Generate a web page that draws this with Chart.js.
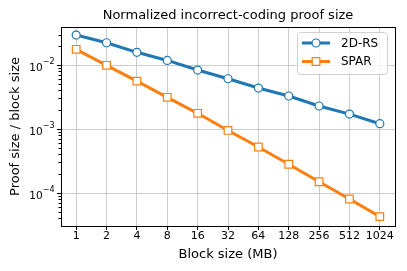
<!DOCTYPE html>
<html>
<head>
<meta charset="utf-8">
<script src="https://cdn.jsdelivr.net/npm/chart.js@4"></script>
<style>
  html, body { margin: 0; padding: 0; background: #fff; }
  #wrap { width: 407px; height: 271px; }
</style>
</head>
<body>
<div id="wrap"><canvas id="chart" width="407" height="271"></canvas></div>
<script>
// data
const blockSizes = ["1", "2", "4", "8", "16", "32", "64", "128", "256", "512", "1024"];
const rsValues = [0.0294, 0.0223, 0.0158, 0.0118, 0.00835, 0.0061, 0.00437, 0.00328, 0.00229, 0.00171, 0.00121];
const sparValues = [0.0176, 0.0099, 0.0056, 0.00313, 0.00176, 0.00095, 0.000524, 0.000281, 0.000150, 0.0000805, 0.0000427];
const yMajorTicks = [1e-4, 1e-3, 1e-2];
const yMajorExponents = ["−4", "−3", "−2"];
const yMin = 3.05e-5;
const yMax = 0.0393;
const titleText = "Normalized incorrect-coding proof size";

const FONT = "'DejaVu Sans', sans-serif";
const BLUE = "#1f77b4";
const ORANGE = "#ff7f0e";

// minor ticks 2..9 x 10^n inside the range
const yMinorTicks = [];
for (let e = -5; e <= -1; e++) {
    for (let m = 2; m <= 9; m++) {
        const v = m * Math.pow(10, e);
        if (v >= yMin && v <= yMax) yMinorTicks.push(v);
    }
}

// title, frame, minor ticks, 10^n labels and legend drawn like matplotlib
const extras = {
    id: "extras",
    afterDraw(chart) {
        const { ctx, chartArea: a } = chart;
        const y = chart.scales.y;
        ctx.save();

        ctx.fillStyle = "#000";
        ctx.font = "13px " + FONT;
        ctx.textAlign = "center";
        ctx.textBaseline = "middle";
        ctx.fillText(titleText, (a.left + a.right) / 2, 16);

        // y tick labels as 10 with a raised exponent
        ctx.textBaseline = "alphabetic";
        ctx.textAlign = "left";
        yMajorTicks.forEach((v, i) => {
            const py = y.getPixelForValue(v);
            ctx.font = "8px " + FONT;
            const ew = ctx.measureText(yMajorExponents[i]).width;
            ctx.font = "10.5px " + FONT;
            const bw = ctx.measureText("10").width;
            const right = a.left - 6.5;
            ctx.fillText("10", right - ew - bw, py + 5.5);
            ctx.font = "8px " + FONT;
            ctx.fillText(yMajorExponents[i], right - ew, py - 1);
        });

        ctx.strokeStyle = "#000";
        ctx.lineWidth = 1;
        ctx.beginPath();
        for (const v of yMinorTicks) {
            const py = Math.round(y.getPixelForValue(v)) + 0.5;
            ctx.moveTo(a.left - 2.5, py);
            ctx.lineTo(a.left, py);
        }
        ctx.stroke();
        ctx.strokeRect(Math.round(a.left) + 0.5, Math.round(a.top) + 0.5,
            Math.round(a.right - a.left), Math.round(a.bottom - a.top));

        // legend
        const lx = 297.5, ly = 32.5, lw = 90, lh = 42, r = 3;
        ctx.beginPath();
        ctx.moveTo(lx + r, ly);
        ctx.arcTo(lx + lw, ly, lx + lw, ly + lh, r);
        ctx.arcTo(lx + lw, ly + lh, lx, ly + lh, r);
        ctx.arcTo(lx, ly + lh, lx, ly, r);
        ctx.arcTo(lx, ly, lx + lw, ly, r);
        ctx.closePath();
        ctx.fillStyle = "rgba(255,255,255,0.8)";
        ctx.fill();
        ctx.strokeStyle = "#d0d0d0";
        ctx.stroke();

        chart.data.datasets.forEach((ds, i) => {
            const cy = 43 + i * 18.5;
            ctx.strokeStyle = ds.borderColor;
            ctx.lineWidth = 3;
            ctx.beginPath();
            ctx.moveTo(302, cy);
            ctx.lineTo(330, cy);
            ctx.stroke();
            ctx.fillStyle = "#fff";
            ctx.lineWidth = ds.pointBorderWidth;
            ctx.beginPath();
            if (ds.pointStyle === "circle") {
                ctx.arc(316, cy, ds.pointRadius, 0, Math.PI * 2);
            } else {
                const s = Math.SQRT1_2 * ds.pointRadius;
                ctx.rect(316 - s, cy - s, 2 * s, 2 * s);
            }
            ctx.fill();
            ctx.stroke();
            ctx.fillStyle = "#000";
            ctx.font = "12px " + FONT;
            ctx.textBaseline = "middle";
            ctx.textAlign = "left";
            ctx.fillText(ds.label, 341, cy + 0.5);
        });
        ctx.restore();
    },
};

new Chart(document.getElementById("chart"), {
    type: "line",
    data: {
        labels: blockSizes,
        datasets: [
            {
                label: "2D-RS",
                data: rsValues,
                borderColor: BLUE,
                backgroundColor: "#fff",
                borderWidth: 3,
                pointStyle: "circle",
                pointRadius: 4,
                pointBorderWidth: 1.2,
                pointBackgroundColor: "#fff",
                pointBorderColor: BLUE,
            },
            {
                label: "SPAR",
                data: sparValues,
                borderColor: ORANGE,
                backgroundColor: "#fff",
                borderWidth: 3,
                pointStyle: "rect",
                pointRadius: 5.4,
                pointBorderWidth: 1.2,
                pointBackgroundColor: "#fff",
                pointBorderColor: ORANGE,
            },
        ],
    },
    options: {
        responsive: false,
        animation: false,
        devicePixelRatio: 1,
        layout: { padding: { left: 0, right: 12, top: 27, bottom: 0 } },
        plugins: {
            legend: { display: false },
            tooltip: { enabled: false },
            title: { display: false },
        },
        scales: {
            x: {
                type: "category",
                offset: true,
                border: { display: false },
                grid: {
                    offset: false,
                    color: "#cccccc",
                    lineWidth: 1,
                    tickColor: "#000",
                    tickLength: 4,
                },
                ticks: {
                    color: "#000",
                    font: { family: FONT, size: 11 },
                    padding: 0,
                    maxRotation: 0,
                    autoSkip: false,
                },
                title: {
                    display: true,
                    text: "Block size (MB)",
                    color: "#000",
                    font: { family: FONT, size: 13 },
                    padding: { top: 0, bottom: 9 },
                },
                afterFit(scale) { scale.height = 45; },
            },
            y: {
                type: "logarithmic",
                min: yMin,
                max: yMax,
                border: { display: false },
                afterBuildTicks(scale) {
                    scale.ticks = yMajorTicks.map((v) => ({ value: v, major: true }));
                },
                grid: {
                    color: "#cccccc",
                    lineWidth: 1,
                    tickColor: "#000",
                    tickLength: 4,
                },
                ticks: {
                    display: true,
                    color: "rgba(0,0,0,0)",
                    font: { family: FONT, size: 10 },
                    autoSkip: false,
                    callback: () => "",
                },
                title: {
                    display: true,
                    text: "Proof size / block size",
                    color: "#000",
                    font: { family: FONT, size: 13 },
                    padding: { top: 8, bottom: 0 },
                },
                afterFit(scale) { scale.width = 61; },
            },
        },
    },
    plugins: [extras],
});
</script>
</body>
</html>
